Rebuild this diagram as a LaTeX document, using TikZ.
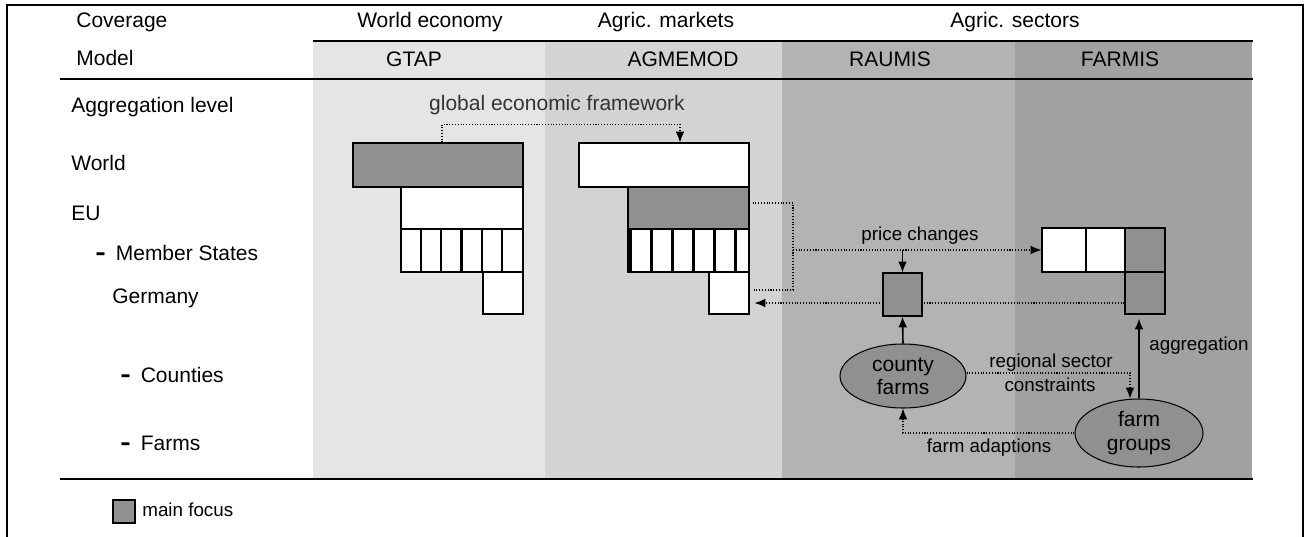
\documentclass[tikz,border=0pt]{standalone}
\usepackage{fontspec}
\setmainfont{Liberation Sans}
\usetikzlibrary{arrows.meta,shapes.geometric}
\definecolor{gtapgray}{HTML}{E5E5E5}
\definecolor{agmgray}{HTML}{D3D3D3}
\definecolor{raugray}{HTML}{B3B3B3}
\definecolor{fargray}{HTML}{A1A1A1}
\definecolor{focusgray}{HTML}{909090}
\newcommand{\lvldash}{\scalebox{1.5}[1.15]{\textbf{-}}\hspace{0.2cm}}
\begin{document}
\begin{tikzpicture}[x=0.02cm, y=-0.02cm,
    every node/.style={font=\fontsize{11.95pt}{13.2pt}\selectfont, inner sep=0pt},
    txt/.style={text height=1.6ex, text depth=0.35ex},
    lbl/.style={txt, anchor=west},
    small/.style={txt, font=\fontsize{10.7pt}{12.4pt}\selectfont},
    box/.style={draw, line width=0.6pt, fill=white, minimum height=0.84cm},
    focus/.style={box, fill=focusgray},
    farm/.style={ellipse, draw, line width=0.6pt, fill=focusgray, align=center},
    divider/.style={line width=1.4pt},
    dotline/.style={densely dotted, line width=0.6pt},
    flow/.style={line width=0.9pt},
    >={Latex[length=6.2pt, width=5pt]}]
\useasboundingbox (0,0) rectangle (1312,537);

% model columns
\fill[gtapgray] (313,41) rectangle (545,479);
\fill[agmgray] (545,41) rectangle (782,479);
\fill[raugray] (782,41) rectangle (1015,479);
\fill[fargray] (1015,41) rectangle (1252,479);
\draw[line width=1.2pt] (7,537) -- (7,5) -- (1303,5) -- (1303,537);
\draw[line width=0.6pt] (313,41) -- (1253,41);
\draw[line width=0.6pt] (60,79) -- (1253,79);
\draw[line width=0.6pt] (60,479) -- (1253,479);

% header
\node[lbl] (cov) at (76,22) {Coverage};
\node[txt] (wec) at (430,22) {World economy};
\node[txt] (amk) at (666,22) {Agric. markets};
\node[txt] (asc) at (1015,22) {Agric. sectors};
\node[lbl] (mdl) at (76,60) {Model};
\node[txt] (gtap) at (414,61) {GTAP};
\node[txt] (agm) at (683,61) {AGMEMOD};
\node[txt] (rau) at (890,61) {RAUMIS};
\node[txt] (far) at (1120,61) {FARMIS};

% aggregation levels
\node[lbl] (agg) at (71,107) {Aggregation level};
\node[lbl] (world) at (71,165) {World};
\node[lbl] (eu) at (71,215) {EU};
\node[lbl] (ms) at (95,255) {\lvldash Member States};
\node[lbl] (ger) at (112,298) {Germany};
\node[lbl] (cnt) at (120,377) {\lvldash Counties};
\node[lbl] (frm) at (120,445) {\lvldash Farms};

% GTAP
\node[focus, minimum width=3.4cm, minimum height=0.88cm] (gWorld) at (438,165) {};
\node[box, minimum width=2.44cm] (gEU) at (462,208) {};
\node[box, minimum width=2.44cm, minimum height=0.86cm] (gMS) at (462,250.5) {};
\node[box, minimum width=0.8cm] (gDE) at (503,293) {};
\foreach \i in {1,...,5}
  \draw[divider] ([xshift=\i*0.4067cm]gMS.north west) -- ([xshift=\i*0.4067cm]gMS.south west);

% AGMEMOD
\node[box, minimum width=3.4cm, minimum height=0.88cm] (aWorld) at (664,165) {};
\node[focus, minimum width=2.42cm] (aEU) at (688.5,208) {};
\node[box, minimum width=2.42cm, minimum height=0.86cm] (aMS) at (688.5,250.5) {};
\node[box, minimum width=0.8cm] (aDE) at (729,293) {};
\foreach \i in {0,...,5}
  \draw[divider] ([xshift=0.06cm+\i*0.42cm]aMS.north west) -- ([xshift=0.06cm+\i*0.42cm]aMS.south west);

% FARMIS
\node[box, minimum width=0.88cm, minimum height=0.88cm] (f1) at (1064,250) {};
\node[box, minimum width=0.78cm, minimum height=0.88cm] (f2) at (1105.5,250) {};
\node[focus, minimum width=0.8cm, minimum height=0.88cm] (f3) at (1145,250) {};
\node[focus, minimum width=0.8cm] (f4) at (1145,293) {};
\draw[dotline,->] ([yshift=-0.2cm]f4.west) -- ([yshift=-0.2cm,xshift=0.1cm]aDE.east);

% RAUMIS
\node[focus, minimum width=0.78cm, minimum height=0.86cm] (rBox) at (902.5,294.5) {};
\node[farm, minimum width=2.52cm, minimum height=1.28cm] (county) at (903,376) {county\\farms};
\node[farm, minimum width=2.56cm, minimum height=1.36cm] (fgroups) at (1139,433) {farm\\groups};

\draw[dotline,->] ([xshift=0.08cm]gWorld.north) -- ++(0,-18) -| ([xshift=0.32cm]aWorld.north);
\node[txt, text=black!80] (gef) at (557,105) {global economic framework};

\coordinate (brk) at (793,250);
\draw[dotline] ([yshift=0.1cm,xshift=0.06cm]aEU.east) -| (brk) |- ([yshift=0.06cm,xshift=0.06cm]aDE.east);
\draw[dotline,->] (brk) -- (f1.west);
\draw[flow,->] (rBox.north |- brk) -- (rBox.north);
\node[small] (pc) at (920,235) {price changes};

\draw[flow,->] (county.north) -- (rBox.south);
\draw[flow,->] (fgroups.north) -- ([yshift=-0.08cm]fgroups.north |- f4.south);
\node[small] (agr) at (1199,345) {aggregation};
\draw[dotline,->] ([yshift=0.06cm]county.east) -| ([xshift=-0.18cm]fgroups.north);
\node[small] (rs) at (1051,362) {regional sector};
\node[small] (rc) at (1050,386) {constraints};
\draw[dotline,->] (fgroups.west) -| (county.south);
\node[small] (fa) at (989,447) {farm adaptions};

% legend
\node[focus, minimum width=0.44cm, minimum height=0.46cm] (legend) at (124,511.5) {};
\node[small, anchor=west] (legtxt) at (142,511) {main focus};
\end{tikzpicture}
\end{document}
